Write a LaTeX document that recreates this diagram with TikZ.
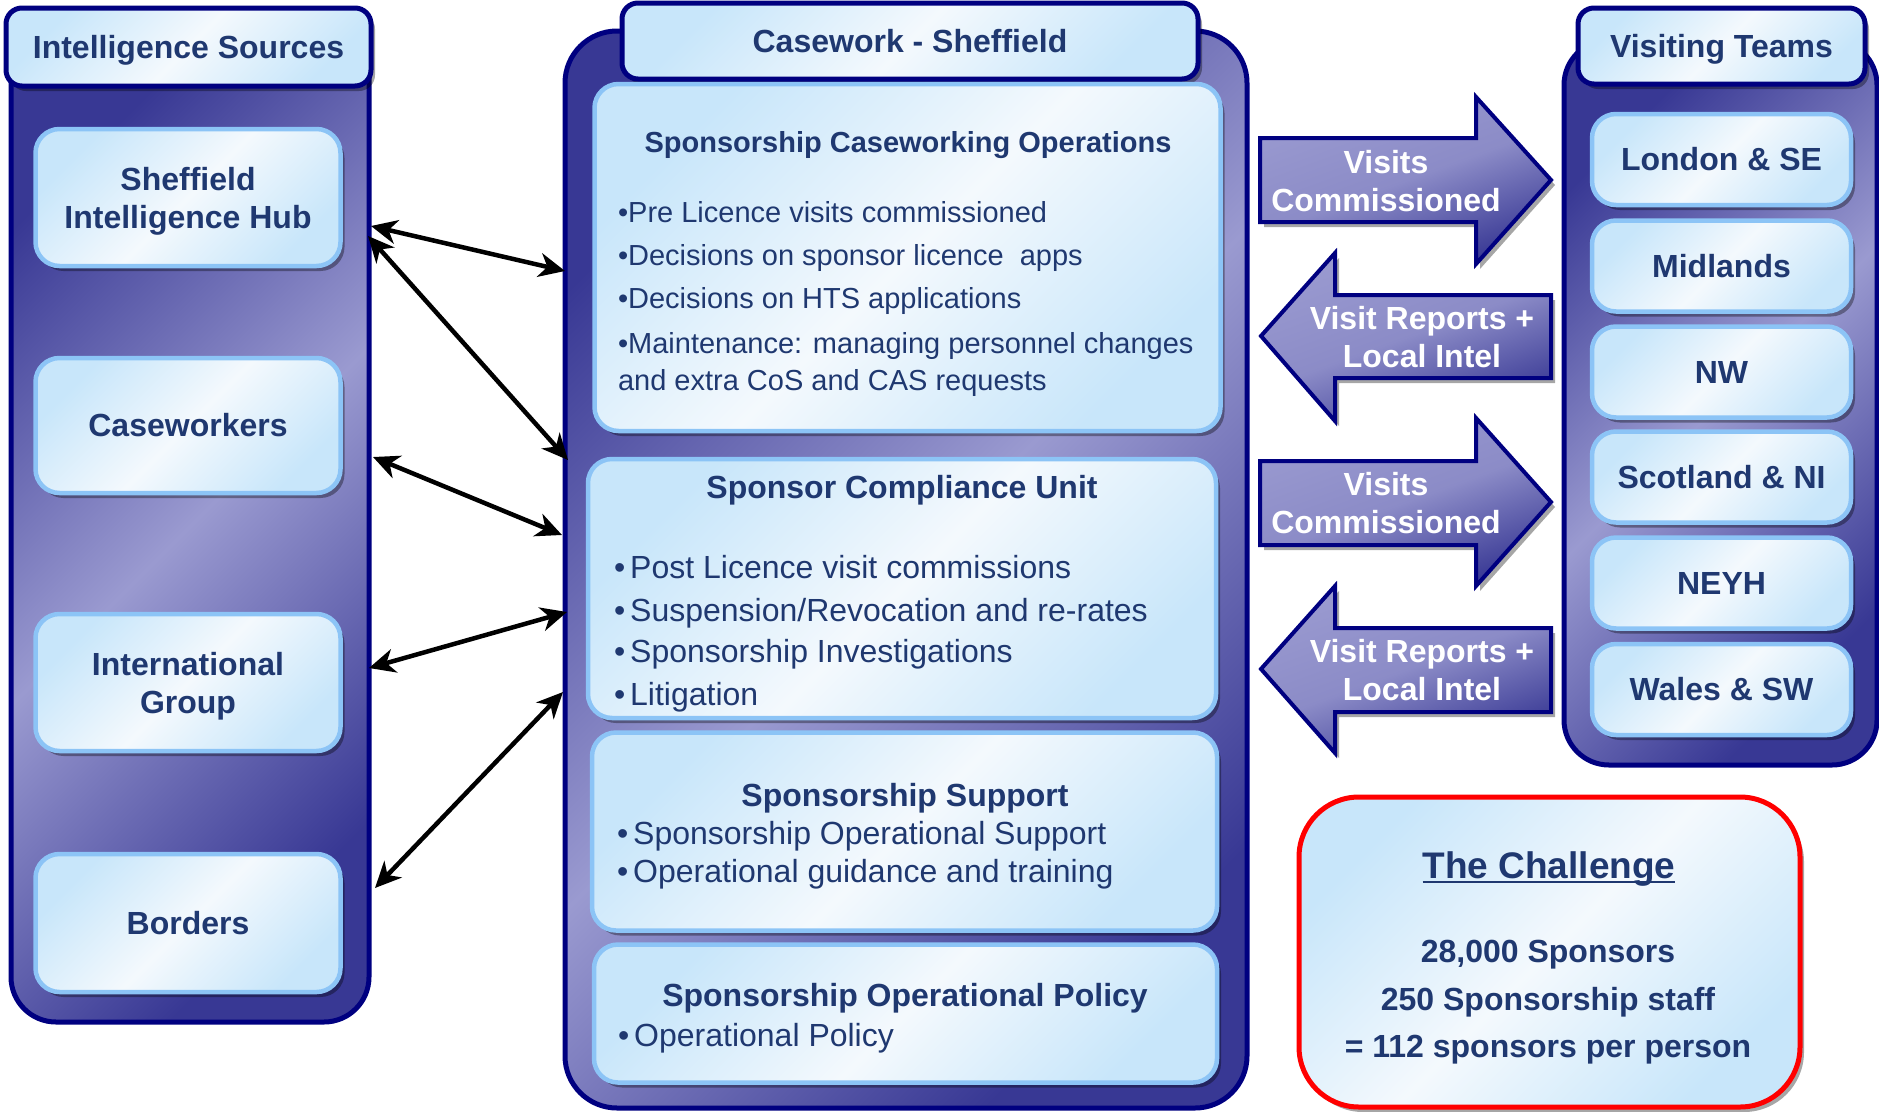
\documentclass[tikz,border=0pt]{standalone}
\usepackage{fontspec}
\setmainfont{Liberation Sans}
\usetikzlibrary{shadows,arrows.meta}
\definecolor{navytext}{RGB}{31,56,112}
\definecolor{navyline}{RGB}{0,0,128}
\definecolor{pdark}{RGB}{56,56,148}
\definecolor{plight}{RGB}{154,154,208}
\definecolor{bblue}{RGB}{200,230,250}
\definecolor{bwhite}{RGB}{244,249,253}
\definecolor{bedge}{RGB}{140,196,246}
\tikzset{
  every node/.style={inner sep=0pt, outer sep=0pt},
  dshadow/.style={drop shadow={shadow xshift=4pt, shadow yshift=-5pt, fill=black, opacity=0.35}},
  panel/.style={draw=navyline, line width=5pt, rounded corners=45pt,
    top color=pdark, bottom color=pdark, middle color=plight, shading angle=45},
  hdr/.style={draw=navyline, line width=5pt, rounded corners=16pt,
    top color=bblue, bottom color=bblue, middle color=bwhite, shading angle=45,
    dshadow, text=navytext, text height=23pt, text depth=0pt,
    font=\bfseries\fontsize{32}{38}\selectfont},
  ibox/.style={draw=bedge, line width=4.5pt, rounded corners=24pt,
    top color=bblue, bottom color=bblue, middle color=bwhite, shading angle=45,
    dshadow, text=navytext, align=center, font=\bfseries\fontsize{32}{38}\selectfont},
  chbox/.style={draw=red, line width=5pt, rounded corners=60pt,
    top color=bblue, bottom color=bblue, middle color=bwhite, shading angle=45, dshadow},
  ttl/.style={text=navytext, anchor=base, font=\bfseries\fontsize{32}{38}\selectfont},
  btxt/.style={text=navytext, anchor=base west, font=\fontsize{32}{38}\selectfont},
  stxt/.style={text=navytext, anchor=base west, font=\fontsize{29}{35}\selectfont},
  wtxt/.style={text=white, align=center, font=\bfseries\fontsize{32}{38}\selectfont},
  barrow/.style={draw=navyline, line width=4pt, line join=miter,
    top color=plight, bottom color=pdark, middle color=plight!85!pdark, shading angle=20, dshadow},
  dbl/.style={{Stealth[length=26pt,width=24pt,inset=8pt]}-{Stealth[length=26pt,width=24pt,inset=8pt]}, line width=4.5pt, black}
}
\begin{document}
\begin{tikzpicture}[x=1pt,y=-1pt]
\useasboundingbox (0,0) rectangle (1879,1111);
% panels
\node[panel, minimum width=358, minimum height=992] (lpanel) at (190,526) {};
\node[panel, rounded corners=52pt, minimum width=682, minimum height=1077] (mpanel) at (906,569.5) {};
\node[panel, minimum width=313, minimum height=725] (rpanel) at (1720.5,402.5) {};
% headers
\node[hdr, minimum width=365, minimum height=78] (lhdr) at (188.5,47) {Intelligence Sources};
\node[hdr, minimum width=576, minimum height=76] (mhdr) at (910,41) {Casework - Sheffield};
\node[hdr, minimum width=287, minimum height=76] (rhdr) at (1721.5,46) {Visiting Teams};
% left boxes
\node[ibox, text depth=0pt, minimum width=305, minimum height=137] (hub) at (188,197.5) {Sheffield\\Intelligence Hub};
\node[ibox, minimum width=305, minimum height=135] (cw) at (188,425.5) {Caseworkers};
\node[ibox, text depth=0pt, minimum width=305, minimum height=137] (intl) at (188,682.5) {International\\Group};
\node[ibox, minimum width=305, minimum height=138] (bord) at (188,923) {Borders};
% middle boxes
\node[ibox, minimum width=626, minimum height=347] (ops) at (907.5,257.5) {};
\node[ibox, minimum width=628, minimum height=259] (comp) at (902,588.5) {};
\node[ibox, minimum width=625, minimum height=198] (supp) at (904.5,831.5) {};
\node[ibox, minimum width=623, minimum height=138] (pol) at (905.5,1013.5) {};
\node[ttl, font=\bfseries\fontsize{29}{35}\selectfont] (opsT) at (908,152) {Sponsorship Caseworking Operations};
\node[stxt] (ops1) at (618,222) {•Pre Licence visits commissioned};
\node[stxt] (ops2) at (618,265) {•Decisions on sponsor licence\ \ apps};
\node[stxt] (ops3) at (618,308) {•Decisions on HTS applications};
\node[stxt] (ops4) at (618,353) {•Maintenance: managing personnel changes};
\node[stxt] (ops5) at (618,390) {and extra CoS and CAS requests};
\node[ttl] (compT) at (902,498) {Sponsor Compliance Unit};
\node[btxt] (comp1) at (614,578) {•\hspace{5pt}Post Licence visit commissions};
\node[btxt] (comp2) at (614,621) {•\hspace{5pt}Suspension/Revocation and re-rates};
\node[btxt] (comp3) at (614,662) {•\hspace{5pt}Sponsorship Investigations};
\node[btxt] (comp4) at (614,705) {•\hspace{5pt}Litigation};
\node[ttl] (suppT) at (905,806) {Sponsorship Support};
\node[btxt] (supp1) at (617,844) {•\hspace{5pt}Sponsorship Operational Support};
\node[btxt] (supp2) at (617,882) {•\hspace{5pt}Operational guidance and training};
\node[ttl] (polT) at (905,1006) {Sponsorship Operational Policy};
\node[btxt] (pol1) at (618,1046) {•\hspace{5pt}Operational Policy};
% team boxes
\node[ibox, minimum width=259, minimum height=91] (lon) at (1721.5,159.5) {London \& SE};
\node[ibox, minimum width=259, minimum height=91] (mid) at (1721.5,266) {Midlands};
\node[ibox, minimum width=259, minimum height=91] (nw) at (1721.5,372) {NW};
\node[ibox, minimum width=259, minimum height=91] (sco) at (1721.5,477) {Scotland \& NI};
\node[ibox, minimum width=259, minimum height=91] (ney) at (1721.5,583) {NEYH};
\node[ibox, minimum width=259, minimum height=91] (wal) at (1721.5,689.5) {Wales \& SW};
% block arrows
\path[barrow] (1260,138) -- (1476,138) -- (1476,97) -- (1551,180) -- (1476,264) -- (1476,222) -- (1260,222) -- cycle;
\node[wtxt] (vc1) at (1386,181) {Visits\\Commissioned};
\path[barrow] (1261,336) -- (1335,253) -- (1335,295) -- (1551,295) -- (1551,378) -- (1335,378) -- (1335,421) -- cycle;
\node[wtxt] (vr1) at (1422,337) {Visit Reports +\\Local Intel};
\path[barrow] (1260,461) -- (1476,461) -- (1476,418) -- (1551,502) -- (1476,586) -- (1476,545) -- (1260,545) -- cycle;
\node[wtxt] (vc2) at (1386,503) {Visits\\Commissioned};
\path[barrow] (1261,669) -- (1335,586) -- (1335,628) -- (1551,628) -- (1551,712) -- (1335,712) -- (1335,753) -- cycle;
\node[wtxt] (vr2) at (1422,670) {Visit Reports +\\Local Intel};
% challenge
\node[chbox, minimum width=501, minimum height=310] (chal) at (1549.5,952) {};
\node[ttl, font=\bfseries\fontsize{37}{44}\selectfont] (chalT) at (1549,878) {The Challenge};
\draw[navytext, line width=2.5pt] ([yshift=-4pt]chalT.base west) -- ([yshift=-4pt]chalT.base east);
\node[ttl] (ch1) at (1548,962.5) {28,000 Sponsors};
\node[ttl] (ch2) at (1548,1010.5) {250 Sponsorship staff};
\node[ttl] (ch3) at (1548,1057.5) {= 112 sponsors per person};
% connectors
\coordinate (a1s) at (371,226); \coordinate (a1e) at (565,271);
\coordinate (a2s) at (368,236); \coordinate (a2e) at (568,460);
\coordinate (a3s) at (373,457); \coordinate (a3e) at (562,535);
\coordinate (a4s) at (369,668); \coordinate (a4e) at (567,612);
\coordinate (a5s) at (375,888); \coordinate (a5e) at (563,692);
\draw[dbl] (a1s) -- (a1e);
\draw[dbl] (a2s) -- (a2e);
\draw[dbl] (a3s) -- (a3e);
\draw[dbl] (a4s) -- (a4e);
\draw[dbl] (a5s) -- (a5e);
\end{tikzpicture}
\end{document}
